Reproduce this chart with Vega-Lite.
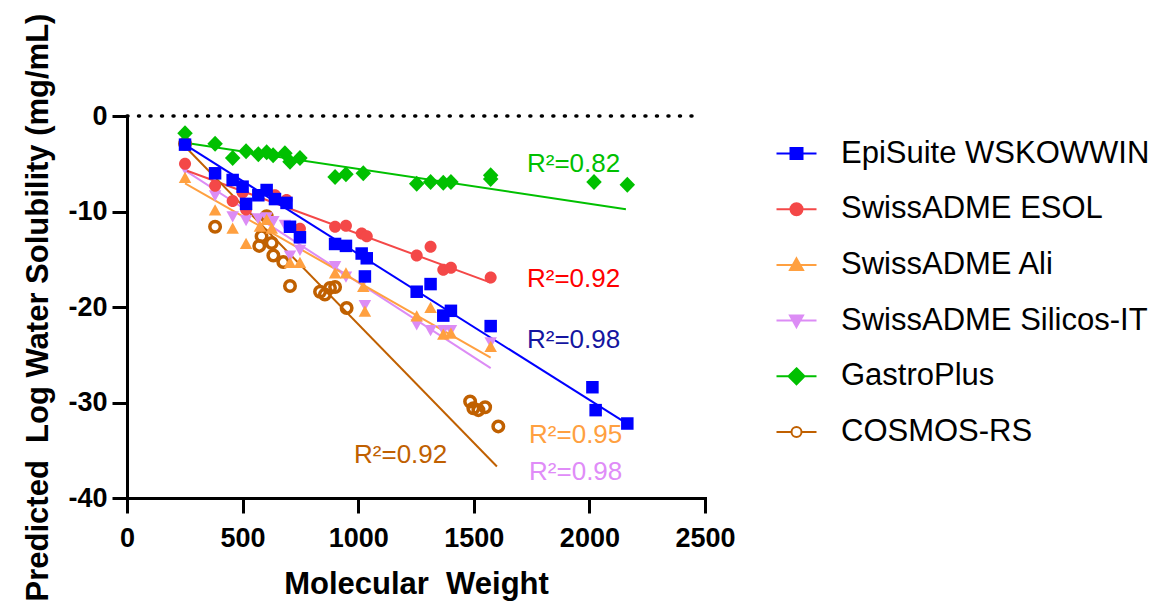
{
  "$schema": "https://vega.github.io/schema/vega-lite/v6.json",
  "autosize": "none",
  "width": 578,
  "height": 382,
  "padding": {"left": 127, "top": 116, "right": 470, "bottom": 106},
  "background": "white",
  "config": {
    "view": {"stroke": null},
    "font": "Liberation Sans",
    "legend": {
      "orient": "none",
      "legendX": 654,
      "legendY": 22,
      "symbolSize": 400,
      "symbolStrokeWidth": 2,
      "labelFont": "Liberation Sans",
      "labelFontSize": 31,
      "labelColor": "black",
      "labelOffset": 29,
      "labelLimit": 400,
      "rowPadding": 23.7,
      "padding": 0
    }
  },
  "datasets": {
    "points": [
      {"series": "GastroPlus", "mw": 251, "logS": -1.8},
      {"series": "GastroPlus", "mw": 381, "logS": -2.9},
      {"series": "GastroPlus", "mw": 457, "logS": -4.4},
      {"series": "GastroPlus", "mw": 515, "logS": -3.7},
      {"series": "GastroPlus", "mw": 568, "logS": -4.0},
      {"series": "GastroPlus", "mw": 604, "logS": -3.8},
      {"series": "GastroPlus", "mw": 632, "logS": -4.1},
      {"series": "GastroPlus", "mw": 683, "logS": -3.9},
      {"series": "GastroPlus", "mw": 705, "logS": -4.8},
      {"series": "GastroPlus", "mw": 748, "logS": -4.4},
      {"series": "GastroPlus", "mw": 900, "logS": -6.4},
      {"series": "GastroPlus", "mw": 947, "logS": -6.1},
      {"series": "GastroPlus", "mw": 1022, "logS": -6.0},
      {"series": "GastroPlus", "mw": 1253, "logS": -7.1},
      {"series": "GastroPlus", "mw": 1313, "logS": -6.9},
      {"series": "GastroPlus", "mw": 1368, "logS": -7.0},
      {"series": "GastroPlus", "mw": 1401, "logS": -6.9},
      {"series": "GastroPlus", "mw": 1573, "logS": -6.2},
      {"series": "GastroPlus", "mw": 1573, "logS": -6.6},
      {"series": "GastroPlus", "mw": 2020, "logS": -6.9},
      {"series": "GastroPlus", "mw": 2164, "logS": -7.2},
      {"series": "SwissADME Silicos-IT", "mw": 251, "logS": -5.5},
      {"series": "SwissADME Silicos-IT", "mw": 381, "logS": -8.3},
      {"series": "SwissADME Silicos-IT", "mw": 457, "logS": -10.5},
      {"series": "SwissADME Silicos-IT", "mw": 515, "logS": -10.9},
      {"series": "SwissADME Silicos-IT", "mw": 568, "logS": -10.7},
      {"series": "SwissADME Silicos-IT", "mw": 604, "logS": -10.6},
      {"series": "SwissADME Silicos-IT", "mw": 633, "logS": -11.0},
      {"series": "SwissADME Silicos-IT", "mw": 683, "logS": -11.4},
      {"series": "SwissADME Silicos-IT", "mw": 705, "logS": -14.6},
      {"series": "SwissADME Silicos-IT", "mw": 748, "logS": -14.0},
      {"series": "SwissADME Silicos-IT", "mw": 900, "logS": -15.7},
      {"series": "SwissADME Silicos-IT", "mw": 947, "logS": -16.8},
      {"series": "SwissADME Silicos-IT", "mw": 1029, "logS": -17.0},
      {"series": "SwissADME Silicos-IT", "mw": 1029, "logS": -19.8},
      {"series": "SwissADME Silicos-IT", "mw": 1253, "logS": -21.8},
      {"series": "SwissADME Silicos-IT", "mw": 1313, "logS": -22.4},
      {"series": "SwissADME Silicos-IT", "mw": 1368, "logS": -22.4},
      {"series": "SwissADME Silicos-IT", "mw": 1401, "logS": -22.4},
      {"series": "SwissADME Silicos-IT", "mw": 1573, "logS": -23.7},
      {"series": "SwissADME Ali", "mw": 251, "logS": -6.5},
      {"series": "SwissADME Ali", "mw": 381, "logS": -9.9},
      {"series": "SwissADME Ali", "mw": 457, "logS": -11.8},
      {"series": "SwissADME Ali", "mw": 515, "logS": -13.4},
      {"series": "SwissADME Ali", "mw": 575, "logS": -11.6},
      {"series": "SwissADME Ali", "mw": 604, "logS": -10.9},
      {"series": "SwissADME Ali", "mw": 626, "logS": -11.8},
      {"series": "SwissADME Ali", "mw": 705, "logS": -15.4},
      {"series": "SwissADME Ali", "mw": 748, "logS": -15.4},
      {"series": "SwissADME Ali", "mw": 900, "logS": -16.5},
      {"series": "SwissADME Ali", "mw": 947, "logS": -16.5},
      {"series": "SwissADME Ali", "mw": 1022, "logS": -17.9},
      {"series": "SwissADME Ali", "mw": 1029, "logS": -20.5},
      {"series": "SwissADME Ali", "mw": 1253, "logS": -21.0},
      {"series": "SwissADME Ali", "mw": 1313, "logS": -20.1},
      {"series": "SwissADME Ali", "mw": 1368, "logS": -22.9},
      {"series": "SwissADME Ali", "mw": 1401, "logS": -22.8},
      {"series": "SwissADME Ali", "mw": 1573, "logS": -24.2},
      {"series": "SwissADME ESOL", "mw": 251, "logS": -5.0},
      {"series": "SwissADME ESOL", "mw": 381, "logS": -7.3},
      {"series": "SwissADME ESOL", "mw": 457, "logS": -8.9},
      {"series": "SwissADME ESOL", "mw": 500, "logS": -8.0},
      {"series": "SwissADME ESOL", "mw": 515, "logS": -9.8},
      {"series": "SwissADME ESOL", "mw": 640, "logS": -8.3},
      {"series": "SwissADME ESOL", "mw": 690, "logS": -8.8},
      {"series": "SwissADME ESOL", "mw": 748, "logS": -11.8},
      {"series": "SwissADME ESOL", "mw": 900, "logS": -11.6},
      {"series": "SwissADME ESOL", "mw": 947, "logS": -11.5},
      {"series": "SwissADME ESOL", "mw": 1015, "logS": -12.3},
      {"series": "SwissADME ESOL", "mw": 1037, "logS": -12.6},
      {"series": "SwissADME ESOL", "mw": 1253, "logS": -14.6},
      {"series": "SwissADME ESOL", "mw": 1313, "logS": -13.7},
      {"series": "SwissADME ESOL", "mw": 1368, "logS": -16.1},
      {"series": "SwissADME ESOL", "mw": 1401, "logS": -15.9},
      {"series": "SwissADME ESOL", "mw": 1573, "logS": -16.9},
      {"series": "EpiSuite WSKOWWIN", "mw": 251, "logS": -3.0},
      {"series": "EpiSuite WSKOWWIN", "mw": 381, "logS": -6.0},
      {"series": "EpiSuite WSKOWWIN", "mw": 457, "logS": -6.7},
      {"series": "EpiSuite WSKOWWIN", "mw": 500, "logS": -7.4},
      {"series": "EpiSuite WSKOWWIN", "mw": 515, "logS": -9.2},
      {"series": "EpiSuite WSKOWWIN", "mw": 568, "logS": -8.3},
      {"series": "EpiSuite WSKOWWIN", "mw": 604, "logS": -7.75},
      {"series": "EpiSuite WSKOWWIN", "mw": 640, "logS": -8.7},
      {"series": "EpiSuite WSKOWWIN", "mw": 690, "logS": -9.1},
      {"series": "EpiSuite WSKOWWIN", "mw": 705, "logS": -11.6},
      {"series": "EpiSuite WSKOWWIN", "mw": 748, "logS": -12.7},
      {"series": "EpiSuite WSKOWWIN", "mw": 900, "logS": -13.4},
      {"series": "EpiSuite WSKOWWIN", "mw": 947, "logS": -13.6},
      {"series": "EpiSuite WSKOWWIN", "mw": 1015, "logS": -14.4},
      {"series": "EpiSuite WSKOWWIN", "mw": 1037, "logS": -14.9},
      {"series": "EpiSuite WSKOWWIN", "mw": 1029, "logS": -16.8},
      {"series": "EpiSuite WSKOWWIN", "mw": 1253, "logS": -18.4},
      {"series": "EpiSuite WSKOWWIN", "mw": 1313, "logS": -17.6},
      {"series": "EpiSuite WSKOWWIN", "mw": 1368, "logS": -20.9},
      {"series": "EpiSuite WSKOWWIN", "mw": 1401, "logS": -20.4},
      {"series": "EpiSuite WSKOWWIN", "mw": 1573, "logS": -22.0},
      {"series": "EpiSuite WSKOWWIN", "mw": 2013, "logS": -28.4},
      {"series": "EpiSuite WSKOWWIN", "mw": 2027, "logS": -30.8},
      {"series": "EpiSuite WSKOWWIN", "mw": 2164, "logS": -32.2},
      {"series": "COSMOS-RS", "mw": 251, "logS": -2.9},
      {"series": "COSMOS-RS", "mw": 381, "logS": -11.6},
      {"series": "COSMOS-RS", "mw": 572, "logS": -13.6},
      {"series": "COSMOS-RS", "mw": 582, "logS": -12.6},
      {"series": "COSMOS-RS", "mw": 604, "logS": -10.5},
      {"series": "COSMOS-RS", "mw": 626, "logS": -13.3},
      {"series": "COSMOS-RS", "mw": 633, "logS": -14.6},
      {"series": "COSMOS-RS", "mw": 676, "logS": -15.3},
      {"series": "COSMOS-RS", "mw": 705, "logS": -17.8},
      {"series": "COSMOS-RS", "mw": 835, "logS": -18.4},
      {"series": "COSMOS-RS", "mw": 856, "logS": -18.7},
      {"series": "COSMOS-RS", "mw": 878, "logS": -18.0},
      {"series": "COSMOS-RS", "mw": 900, "logS": -17.9},
      {"series": "COSMOS-RS", "mw": 950, "logS": -20.1},
      {"series": "COSMOS-RS", "mw": 1484, "logS": -29.9},
      {"series": "COSMOS-RS", "mw": 1498, "logS": -30.6},
      {"series": "COSMOS-RS", "mw": 1520, "logS": -30.8},
      {"series": "COSMOS-RS", "mw": 1549, "logS": -30.5},
      {"series": "COSMOS-RS", "mw": 1606, "logS": -32.5}
    ],
    "fits": [
      {"series": "GastroPlus", "mw": 251, "logS": -2.8},
      {"series": "GastroPlus", "mw": 2158, "logS": -9.77},
      {"series": "SwissADME Silicos-IT", "mw": 251, "logS": -5.7},
      {"series": "SwissADME Silicos-IT", "mw": 1573, "logS": -26.4},
      {"series": "SwissADME Ali", "mw": 251, "logS": -7.05},
      {"series": "SwissADME Ali", "mw": 1573, "logS": -25.3},
      {"series": "SwissADME ESOL", "mw": 251, "logS": -5.65},
      {"series": "SwissADME ESOL", "mw": 1573, "logS": -17.45},
      {"series": "COSMOS-RS", "mw": 251, "logS": -3.2},
      {"series": "COSMOS-RS", "mw": 1600, "logS": -36.7},
      {"series": "EpiSuite WSKOWWIN", "mw": 251, "logS": -3.0},
      {"series": "EpiSuite WSKOWWIN", "mw": 2168, "logS": -32.3}
    ],
    "labels": [
      {"series": "GastroPlus", "label": "R²=0.82", "mw": 1730, "logS": -5.86},
      {"series": "SwissADME ESOL", "label": "R²=0.92", "mw": 1730, "logS": -17.9},
      {"series": "EpiSuite WSKOWWIN", "label": "R²=0.98", "mw": 1730, "logS": -24.3},
      {"series": "SwissADME Ali", "label": "R²=0.95", "mw": 1739, "logS": -34.2},
      {"series": "SwissADME Silicos-IT", "label": "R²=0.98", "mw": 1739, "logS": -38.1},
      {"series": "COSMOS-RS", "label": "R²=0.92", "mw": 982, "logS": -36.3}
    ],
    "reference": [
      {"from": 0, "to": 2450, "level": 0}
    ]
  },
  "encoding": {
    "x": {
      "field": "mw", "type": "quantitative",
      "scale": {"domain": [0, 2500], "nice": false, "zero": false},
      "axis": {
        "values": [0, 500, 1000, 1500, 2000, 2500],
        "labelExpr": "'' + datum.value",
        "grid": false,
        "domainColor": "black", "domainWidth": 3, "domainCap": "square",
        "tickColor": "black", "tickWidth": 3, "tickSize": 15,
        "labelFont": "Liberation Sans", "labelFontWeight": "bold", "labelFontSize": 27, "labelColor": "black",
        "labelPadding": 12, "labelFlush": false, "labelOverlap": false,
        "title": "Molecular\u00a0 Weight",
        "titleFont": "Liberation Sans", "titleFontWeight": "bold", "titleFontSize": 31, "titleColor": "black",
        "titleBaseline": "alphabetic", "titleY": 95
      }
    },
    "y": {
      "field": "logS", "type": "quantitative",
      "scale": {"domain": [-40, 0], "nice": false, "zero": false},
      "axis": {
        "values": [-40, -30, -20, -10, 0],
        "labelExpr": "'' + datum.value",
        "grid": false,
        "domainColor": "black", "domainWidth": 3, "domainCap": "square",
        "tickColor": "black", "tickWidth": 3, "tickSize": 15,
        "labelFont": "Liberation Sans", "labelFontWeight": "bold", "labelFontSize": 27, "labelColor": "black",
        "labelPadding": 5, "labelFlush": false, "labelOverlap": false,
        "title": "Predicted\u00a0 Log Water Solubility (mg/mL)",
        "titleFont": "Liberation Sans", "titleFontWeight": "bold", "titleFontSize": 31, "titleColor": "black",
        "titleAngle": 270, "titleBaseline": "alphabetic", "titleAlign": "center", "titleX": -80, "titleY": 191
      }
    }
  },
  "layer": [
    {
      "data": {"name": "reference"},
      "mark": {"type": "rule", "color": "black", "strokeWidth": 3.5, "strokeCap": "round", "strokeDash": [1, 10.51]},
      "encoding": {
        "y": {"field": "level", "type": "quantitative"},
        "x": {"field": "from", "type": "quantitative"},
        "x2": {"field": "to"}
      }
    },
    {
      "data": {"name": "fits"},
      "mark": {"type": "line", "strokeWidth": 2},
      "encoding": {
        "color": {
          "field": "series", "type": "nominal", "legend": null,
          "scale": {
            "domain": ["EpiSuite WSKOWWIN", "SwissADME ESOL", "SwissADME Ali", "SwissADME Silicos-IT", "GastroPlus", "COSMOS-RS"],
            "range": ["#0000FF", "#F44848", "#FFA040", "#DC8CF5", "#00C000", "#C06000"]
          }
        }
      }
    },
    {
      "data": {"name": "points"},
      "transform": [{"filter": "datum.series === 'COSMOS-RS'"}],
      "mark": {"type": "point", "filled": false, "opacity": 1, "size": 100, "strokeWidth": 3.5, "color": "#C06000",
               "shape": "M-1.05,0A1.05,1.05,0,1,0,1.05,0A1.05,1.05,0,1,0,-1.05,0Z"}
    },
    {
      "data": {"name": "points"},
      "transform": [{"filter": "datum.series !== 'COSMOS-RS'"}],
      "mark": {"type": "point", "filled": true, "opacity": 1, "size": 100, "strokeWidth": 0},
      "encoding": {
        "color": {
          "field": "series", "type": "nominal", "legend": null,
          "scale": {
            "domain": ["EpiSuite WSKOWWIN", "SwissADME ESOL", "SwissADME Ali", "SwissADME Silicos-IT", "GastroPlus", "COSMOS-RS"],
            "range": ["#0000FF", "#F44848", "#FFA040", "#DC8CF5", "#00C000", "#C06000"]
          }
        },
        "shape": {
          "field": "series", "type": "nominal", "legend": null,
          "scale": {
            "domain": ["EpiSuite WSKOWWIN", "SwissADME ESOL", "SwissADME Ali", "SwissADME Silicos-IT", "GastroPlus", "COSMOS-RS"],
            "range": [
              "M-1.25,-1.25H1.25V1.25H-1.25Z",
              "M-1.2,0A1.2,1.2,0,1,0,1.2,0A1.2,1.2,0,1,0,-1.2,0Z",
              "M0,-1.25L1.25,1L-1.25,1Z",
              "M0,1.25L1.25,-1L-1.25,-1Z",
              "M0,-1.6L1.55,0L0,1.6L-1.55,0Z",
              "M-1,0A1,1,0,1,0,1,0A1,1,0,1,0,-1,0Z"
            ]
          }
        }
      }
    },
    {
      "data": {"name": "labels"},
      "mark": {"type": "text", "align": "left", "baseline": "alphabetic", "font": "Liberation Sans", "fontSize": 26},
      "encoding": {
        "text": {"field": "label"},
        "color": {
          "field": "series", "type": "nominal", "legend": null,
          "scale": {
            "domain": ["EpiSuite WSKOWWIN", "SwissADME ESOL", "SwissADME Ali", "SwissADME Silicos-IT", "GastroPlus", "COSMOS-RS"],
            "range": ["#1515A0", "#FF0000", "#FFA040", "#E08CF8", "#00C000", "#C06000"]
          }
        }
      }
    },
    {
      "data": {"name": "points"},
      "mark": {"type": "point", "opacity": 0, "size": 100},
      "encoding": {
        "fill": {
          "field": "series", "type": "nominal",
          "legend": {"title": null, "encode": {"symbols": {"update": {"opacity": {"value": 1}}}}},
          "scale": {
            "domain": ["EpiSuite WSKOWWIN", "SwissADME ESOL", "SwissADME Ali", "SwissADME Silicos-IT", "GastroPlus", "COSMOS-RS"],
            "range": ["#0000FF", "#F44848", "#FFA040", "#DC8CF5", "#00C000", "white"]
          }
        },
        "stroke": {
          "field": "series", "type": "nominal",
          "legend": {"title": null, "encode": {"symbols": {"update": {"opacity": {"value": 1}}}}},
          "scale": {
            "domain": ["EpiSuite WSKOWWIN", "SwissADME ESOL", "SwissADME Ali", "SwissADME Silicos-IT", "GastroPlus", "COSMOS-RS"],
            "range": ["#0000FF", "#F44848", "#FFA040", "#DC8CF5", "#00C000", "#C06000"]
          }
        },
        "shape": {
          "field": "series", "type": "nominal",
          "legend": {"title": null, "encode": {"symbols": {"update": {"opacity": {"value": 1}}}}},
          "scale": {
            "domain": ["EpiSuite WSKOWWIN", "SwissADME ESOL", "SwissADME Ali", "SwissADME Silicos-IT", "GastroPlus", "COSMOS-RS"],
            "range": [
              "M-2,0H2M-0.6,-0.55H0.6V0.55H-0.6Z",
              "M-2,0H2M-0.6,0A0.6,0.6,0,1,0,0.6,0A0.6,0.6,0,1,0,-0.6,0Z",
              "M-2,0H2M0,-0.65L0.65,0.5H-0.65Z",
              "M-2,0H2M0,0.65L0.65,-0.5H-0.65Z",
              "M-2,0H2M0,-0.8L0.8,0L0,0.8L-0.8,0Z",
              "M-2,0H-0.5M0.5,0H2M-0.5,0A0.5,0.5,0,1,0,0.5,0A0.5,0.5,0,1,0,-0.5,0Z"
            ]
          }
        }
      }
    }
  ],
  "resolve": {
    "scale": {"color": "independent", "fill": "independent", "stroke": "independent", "shape": "independent"},
    "legend": {"color": "independent", "fill": "independent", "stroke": "independent", "shape": "independent"}
  }
}
